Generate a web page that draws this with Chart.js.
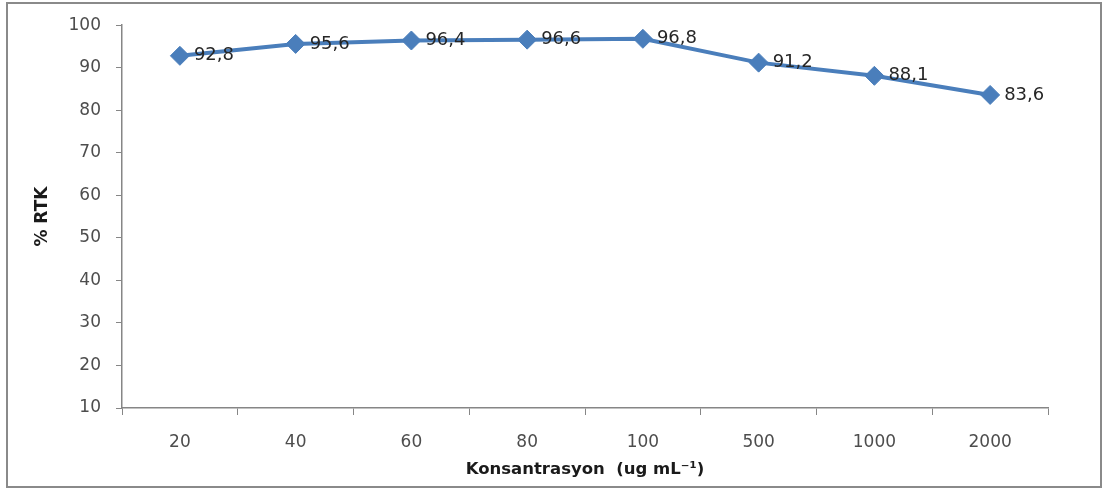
<!DOCTYPE html>
<html>
<head>
<meta charset="utf-8">
<script src="https://cdn.jsdelivr.net/npm/chart.js@4/dist/chart.umd.min.js"></script>
<style>
    html, body { margin: 0; padding: 0; background: #fff; }
    #wrap { position: relative; width: 1107px; height: 490px; }
    #frame {
        position: absolute; left: 6px; top: 2px; width: 1092px; height: 482px;
        border: 2px solid #8a8a8a; pointer-events: none;
    }
</style>
</head>
<body>
<div id="wrap">
    <canvas id="chart" width="1107" height="490"></canvas>
    <div id="frame"></div>
</div>
<script>
// concentrations (ug/mL) and the matching % RTK values
const concentrations = ['20', '40', '60', '80', '100', '500', '1000', '2000'];
const rtkValues = [92.8, 95.6, 96.4, 96.6, 96.8, 91.2, 88.1, 83.6];
const yTicks = [10, 20, 30, 40, 50, 60, 70, 80, 90, 100];

const axisGray = '#868686';
const lineBlue = '#4a7ebb';
const fontFamily = '"DejaVu Sans", sans-serif';

// writes each value to the right of its marker, decimal comma style
const pointLabels = {
    id: 'pointLabels',
    afterDatasetsDraw(chart) {
        const ctx = chart.ctx;
        const meta = chart.getDatasetMeta(0);
        ctx.save();
        ctx.font = '18px ' + fontFamily;
        ctx.fillStyle = '#262626';
        ctx.textAlign = 'left';
        ctx.textBaseline = 'middle';
        meta.data.forEach((pt, i) => {
            const txt = rtkValues[i].toFixed(1).replace('.', ',');
            ctx.fillText(txt, pt.x + 14, pt.y);
        });
        ctx.restore();
    }
};

new Chart(document.getElementById('chart').getContext('2d'), {
    type: 'line',
    data: {
        labels: concentrations,
        datasets: [{
            data: rtkValues,
            borderColor: lineBlue,
            backgroundColor: lineBlue,
            borderWidth: 4,
            pointStyle: 'rectRot',
            pointRadius: 9.5,
            pointHoverRadius: 9.5,
            pointBorderWidth: 1,
            tension: 0,
            fill: false
        }]
    },
    options: {
        responsive: false,
        animation: false,
        layout: { padding: { left: 0, right: 59, top: 21, bottom: 0 } },
        plugins: {
            legend: { display: false },
            tooltip: { enabled: false }
        },
        scales: {
            x: {
                type: 'category',
                offset: true,
                afterFit: (s) => { s.height = 82; },
                grid: {
                    offset: true,
                    drawOnChartArea: false,
                    drawTicks: true,
                    tickLength: 7,
                    color: axisGray
                },
                border: { display: true, color: axisGray, width: 1.5 },
                ticks: {
                    padding: 17,
                    color: '#4d4d4d',
                    font: { family: fontFamily, size: 17 }
                },
                title: {
                    display: true,
                    text: 'Konsantrasyon  (ug mL\u207B\u00B9)',
                    color: '#1a1a1a',
                    font: { family: fontFamily, size: 16.5, weight: 'bold' },
                    padding: { top: 0, bottom: 10 }
                }
            },
            y: {
                min: 10,
                max: 100,
                afterFit: (s) => { s.width = 122; },
                afterBuildTicks: (s) => { s.ticks = yTicks.map(v => ({ value: v })); },
                grid: {
                    drawOnChartArea: false,
                    drawTicks: true,
                    tickLength: 6,
                    color: axisGray
                },
                border: { display: true, color: axisGray, width: 1.5 },
                ticks: {
                    padding: 15,
                    color: '#4d4d4d',
                    font: { family: fontFamily, size: 17 }
                },
                title: {
                    display: true,
                    text: '% RTK',
                    color: '#1a1a1a',
                    font: { family: fontFamily, size: 17, weight: 'bold' },
                    padding: { top: 32, bottom: 0 }
                }
            }
        }
    },
    plugins: [pointLabels]
});
</script>
</body>
</html>
